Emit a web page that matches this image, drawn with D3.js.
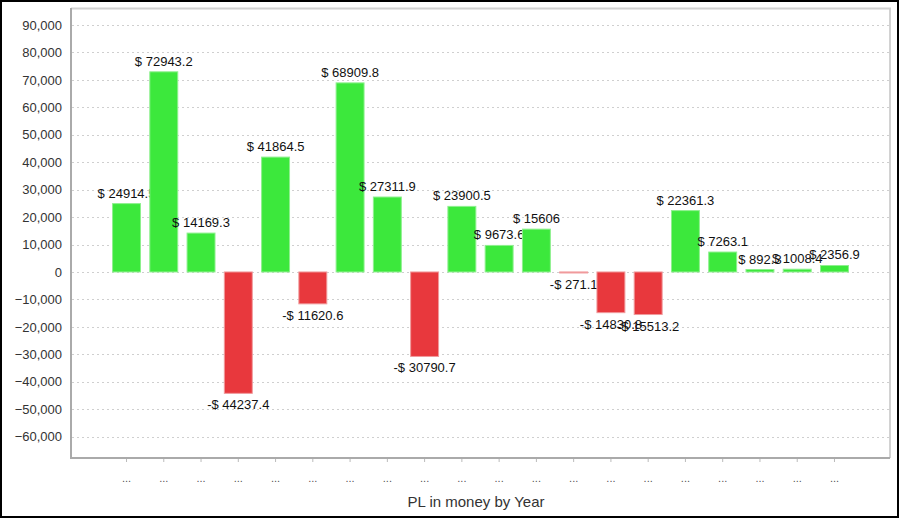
<!DOCTYPE html>
<html>
<head>
<meta charset="utf-8">
<script src="https://cdn.jsdelivr.net/npm/d3@7"></script>
<style>
  body { margin: 0; background: #fff; }
  text { font-family: "Liberation Sans", Arial, sans-serif; }
</style>
</head>
<body>
<div id="chart"></div>
<script>
// years are not shown on the axis, only "..."
const categories = ["1","2","3","4","5","6","7","8","9","10","11","12","13","14","15","16","17","18","19","20"];
const xLabels = ["...","...","...","...","...","...","...","...","...","...","...","...","...","...","...","...","...","...","...","..."];
const plValues = [24914.5, 72943.2, 14169.3, -44237.4, 41864.5, -11620.6, 68909.8, 27311.9, -30790.7, 23900.5,
                  9673.6, 15606, -271.1, -14830.8, -15513.2, 22361.3, 7263.1, 892.3, 1008.4, 2356.9];
const yTicks = [-60000,-50000,-40000,-30000,-20000,-10000,0,10000,20000,30000,40000,50000,60000,70000,80000,90000];
const axisTitle = "PL in money by Year";

const size = {width: 900, height: 519};
const margin = {top: 8, right: 10, bottom: 61, left: 71};
const width = size.width - margin.left - margin.right;
const height = size.height - margin.top - margin.bottom;

const svg = d3.select("#chart").append("svg")
    .attr("width", size.width)
    .attr("height", size.height);

// outer black frame
svg.append("rect")
    .attr("x", 1).attr("y", 1)
    .attr("width", size.width - 3).attr("height", size.height - 3)
    .attr("fill", "none").attr("stroke", "#000").attr("stroke-width", 2);

const g = svg.append("g")
    .attr("transform", "translate(" + margin.left + "," + margin.top + ")");

const xScale = d3.scaleBand()
    .domain(categories)
    .range([0, width])
    .paddingInner(0.25)
    .paddingOuter(1.115);

const yScale = d3.scaleLinear()
    .domain([-67800, 96200])
    .range([height, 0]);

// gridlines
g.append("g").attr("class", "grid")
    .selectAll("line")
    .data(yTicks)
    .join("line")
    .attr("x1", 1).attr("x2", width)
    .attr("y1", d => Math.round(yScale(d)) + 0.5)
    .attr("y2", d => Math.round(yScale(d)) + 0.5)
    .attr("stroke", "#cfcfcf")
    .attr("stroke-dasharray", "2,3");

// plot frame top/right
g.append("path")
    .attr("d", "M0,0.5H" + width + "V" + height)
    .attr("fill", "none").attr("stroke", "#d2d2d2").attr("stroke-width", 2);

// y axis labels
const yAxis = d3.axisLeft(yScale)
    .tickValues(yTicks)
    .tickFormat(d3.format(","))
    .tickSize(0)
    .tickPadding(9);
const yAxisG = g.append("g").attr("class", "yAxisG").call(yAxis);
yAxisG.select(".domain").remove();
yAxisG.selectAll("text")
    .attr("font-size", "13px")
    .attr("fill", "#333");

// x axis
const xAxis = d3.axisBottom(xScale)
    .tickFormat((d, i) => xLabels[i])
    .tickSize(4)
    .tickPadding(12);
const xAxisG = g.append("g").attr("class", "xAxisG")
    .attr("transform", "translate(0," + height + ")")
    .call(xAxis);
xAxisG.select(".domain").remove();
xAxisG.selectAll(".tick line").attr("stroke", "#bbb");
xAxisG.selectAll("text")
    .attr("font-size", "11px")
    .attr("fill", "#555");

// bars + labels drawn in sequence so each next bar covers the previous label
const data = plValues.map((v, i) => ({cat: categories[i], value: v}));
const pointG = g.selectAll(".barG")
    .data(data)
    .join("g")
    .attr("class", "barG");

pointG.append("rect")
    .attr("x", d => xScale(d.cat))
    .attr("width", xScale.bandwidth())
    .attr("y", d => yScale(Math.max(0, d.value)))
    .attr("height", d => Math.max(1, Math.abs(yScale(d.value) - yScale(0))))
    .attr("fill", d => d.value >= 0 ? "#3ce83c" : "#e8383d")
    .attr("stroke", d => d.value >= 0 ? "#8ef08e" : "#f09a9c")
    .attr("stroke-width", 1);

pointG.append("text")
    .attr("x", d => xScale(d.cat) + xScale.bandwidth() / 2)
    .attr("y", d => d.value >= 0 ? yScale(d.value) - 6 : yScale(d.value) + 16)
    .attr("text-anchor", "middle")
    .attr("font-size", "13px")
    .attr("fill", "#111")
    .text(d => (d.value < 0 ? "-$ " : "$ ") + Math.abs(d.value));

// axis lines left/bottom
g.append("path")
    .attr("d", "M0,0V" + height + "H" + width)
    .attr("fill", "none").attr("stroke", "#aaa").attr("stroke-width", 2);

// axis title
svg.append("text")
    .attr("x", 476)
    .attr("y", 507)
    .attr("text-anchor", "middle")
    .attr("font-size", "15px")
    .attr("fill", "#333")
    .text(axisTitle);
</script>
</body>
</html>
